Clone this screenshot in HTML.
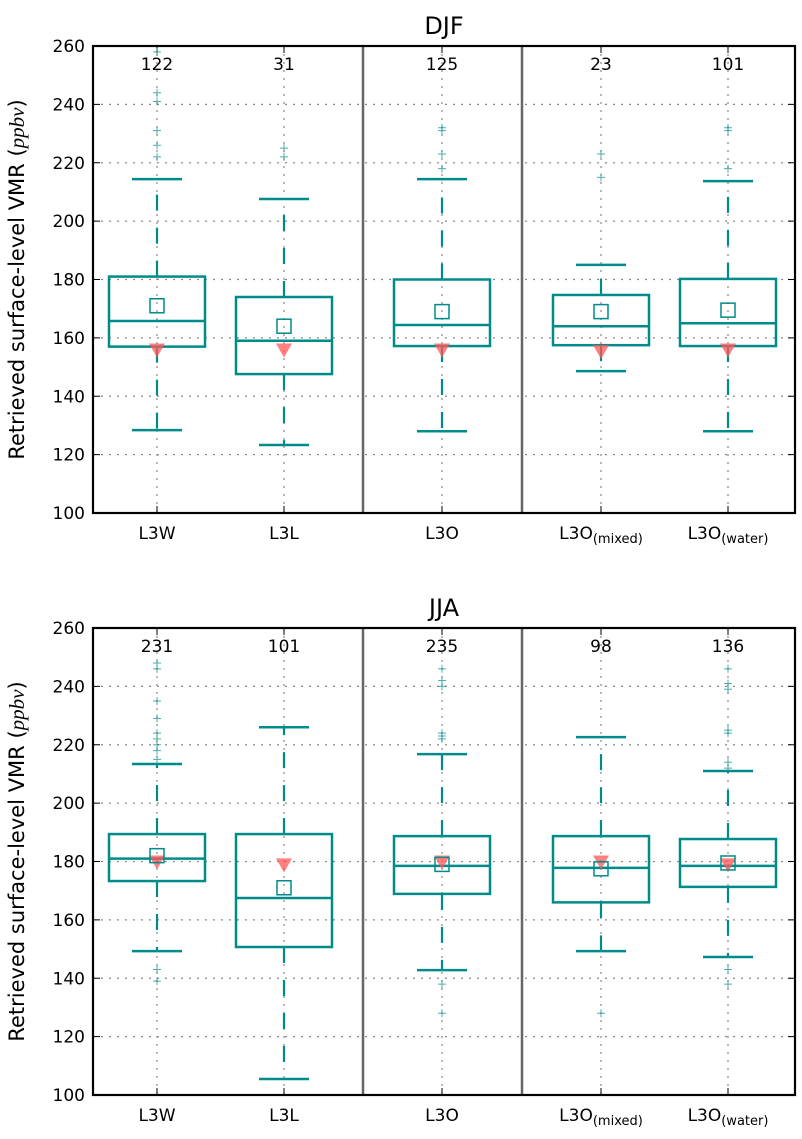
<!DOCTYPE html>
<html><head><meta charset="utf-8"><style>
body{margin:0;background:#fff}
svg{display:block;font-family:"DejaVu Sans","Liberation Sans",sans-serif}
</style></head><body>
<svg id="chart" width="802" height="1139" viewBox="0 0 802 1139"></svg>
<script>
const categories=["L3W","L3L","L3O","L3O(mixed)","L3O(water)"];
const yTicks=[100,120,140,160,180,200,220,240,260];
const djfCounts=[122,31,125,23,101];
const djfWhiskHi=[214.4,207.6,214.4,185,213.7];
const djfQ3=[181,174,180,174.7,180.2];
const djfMed=[165.8,159,164.4,164,165];
const djfQ1=[157,147.6,157.2,157.5,157.2];
const djfWhiskLo=[128.4,123.3,128,148.6,128];
const djfMean=[171,164,169,169,169.5];
const djfTri=[156,156,156,155.5,156];
const djfFliers=[[258,244,241,231,226,222],[225,222],[232,231,223,218],[223,215],[232,231,218]];
const jjaCounts=[231,101,235,98,136];
const jjaWhiskHi=[213.4,226,216.8,222.6,211];
const jjaQ3=[189.4,189.4,188.7,188.7,187.7];
const jjaMed=[181,167.5,178.5,177.8,178.5];
const jjaQ1=[173.3,150.7,168.9,166,171.3];
const jjaWhiskLo=[149.3,105.5,142.8,149.3,147.3];
const jjaMean=[182,171,179,177.5,179.5];
const jjaTri=[180,179,180,180,179];
const jjaFliers=[[248,246,235,229,224,222,220,218,215,143,139],[],[246,242,240,224,223,222,138,128],[128],[246,241,239,225,224,214,212,143,138]];

const NS="http://www.w3.org/2000/svg";
const svg=document.getElementById('chart');
const TEAL="#008b8b";
const X0=93,X1=795;
const centers=[157,284,442,601,728];
function mk(tag,attrs,parent){const e=document.createElementNS(NS,tag);for(const k in attrs)e.setAttribute(k,attrs[k]);(parent||svg).appendChild(e);return e;}

function panel(title,top,counts,hi,q3,med,q1,lo,mean,tri,fliers,key){
  const bottom=top+467;
  const y=v=>bottom-(v-100)/160*467;
  const g=mk('g',{});
  
  
  const t=mk('text',{x:444,y:top-12,'text-anchor':'middle','font-size':24},g);
  t.textContent=title;
  
  
  yTicks.forEach(v=>{
    const l=mk('line',{x1:X0,x2:X1,y1:y(v),y2:y(v),stroke:'#888','stroke-width':1.2,'stroke-dasharray':'2,6'},g);
    
    
    const tx=mk('text',{x:X0-8,y:y(v)+6,'text-anchor':'end','font-size':17},g);
    tx.textContent=v;
    
    
    mk('line',{x1:X0,x2:X0+7,y1:y(v),y2:y(v),stroke:'#000','stroke-width':1},g);
    mk('line',{x1:X1,x2:X1-7,y1:y(v),y2:y(v),stroke:'#000','stroke-width':1},g);
  });
  centers.forEach((cx,i)=>{
    const l=mk('line',{x1:cx,x2:cx,y1:top,y2:bottom,stroke:'#888','stroke-width':1.2,'stroke-dasharray':'2,6'},g);
    
    
    mk('line',{x1:cx,x2:cx,y1:bottom,y2:bottom-7,stroke:'#000','stroke-width':1},g);
    mk('line',{x1:cx,x2:cx,y1:top,y2:top+7,stroke:'#000','stroke-width':1},g);
  });
  [363,522].forEach(sx=>{
    const l=mk('line',{x1:sx,x2:sx,y1:top,y2:bottom,stroke:'#666','stroke-width':2.5},g);
    
    
  });
  centers.forEach((cx,i)=>{
    const b=mk('g',{},g);
    
    
    mk('line',{x1:cx,x2:cx,y1:y(q3[i]),y2:y(hi[i]),stroke:TEAL,'stroke-width':2.2,'stroke-dasharray':'16,17'},b);
    mk('line',{x1:cx,x2:cx,y1:y(q1[i]),y2:y(lo[i]),stroke:TEAL,'stroke-width':2.2,'stroke-dasharray':'16,17'},b);
    mk('line',{x1:cx-25,x2:cx+25,y1:y(hi[i]),y2:y(hi[i]),stroke:TEAL,'stroke-width':2.5},b);
    mk('line',{x1:cx-25,x2:cx+25,y1:y(lo[i]),y2:y(lo[i]),stroke:TEAL,'stroke-width':2.5},b);
    mk('rect',{x:cx-48,y:y(q3[i]),width:96,height:y(q1[i])-y(q3[i]),fill:'none',stroke:TEAL,'stroke-width':2.5},b);
    mk('line',{x1:cx-48,x2:cx+48,y1:y(med[i]),y2:y(med[i]),stroke:TEAL,'stroke-width':2.5},b);
    const ty=y(tri[i]);
    mk('polygon',{points:`${cx-8},${ty-6} ${cx+8},${ty-6} ${cx},${ty+8}`,fill:'#ff5555','fill-opacity':0.75},b);
    const my=y(mean[i]);
    mk('rect',{x:cx-7,y:my-7,width:14,height:14,fill:'none',stroke:TEAL,'stroke-width':1.5},b);
    fliers[i].forEach(f=>{
      const fy=y(f);
      mk('path',{d:`M${cx-4},${fy}H${cx+4}M${cx},${fy-4}V${fy+4}`,stroke:TEAL,'stroke-width':1,'stroke-opacity':0.7},b);
    });
    const c=mk('text',{x:cx,y:top+24,'text-anchor':'middle','font-size':17},g);
    c.textContent=counts[i];
    
    
    const lab=mk('text',{x:cx,y:bottom+26,'text-anchor':'middle','font-size':17},g);
    
    
    const m=categories[i].match(/^(\w+)(\(.*\))?$/);
    const s1=mk('tspan',{},lab);s1.textContent=m[1];
    if(m[2]){const s2=mk('tspan',{'font-size':13,dy:4},lab);s2.textContent=m[2];}
  });
  const fr=mk('rect',{x:X0,y:top,width:X1-X0,height:467,fill:'none',stroke:'#000','stroke-width':2.2},g);
  
  
  const yt=mk('text',{transform:`translate(24,${(top+bottom)/2}) rotate(-90)`,'text-anchor':'middle','font-size':21},g);
  
  
  const a=mk('tspan',{},yt);a.textContent='Retrieved surface-level VMR (';
  const b2=mk('tspan',{'font-style':'italic','font-family':'Liberation Serif, serif'},yt);b2.textContent='ppbv';
  const c2=mk('tspan',{},yt);c2.textContent=')';
}
panel('DJF',46,djfCounts,djfWhiskHi,djfQ3,djfMed,djfQ1,djfWhiskLo,djfMean,djfTri,djfFliers,'djf');
panel('JJA',628,jjaCounts,jjaWhiskHi,jjaQ3,jjaMed,jjaQ1,jjaWhiskLo,jjaMean,jjaTri,jjaFliers,'jja');
</script>
</body></html>
